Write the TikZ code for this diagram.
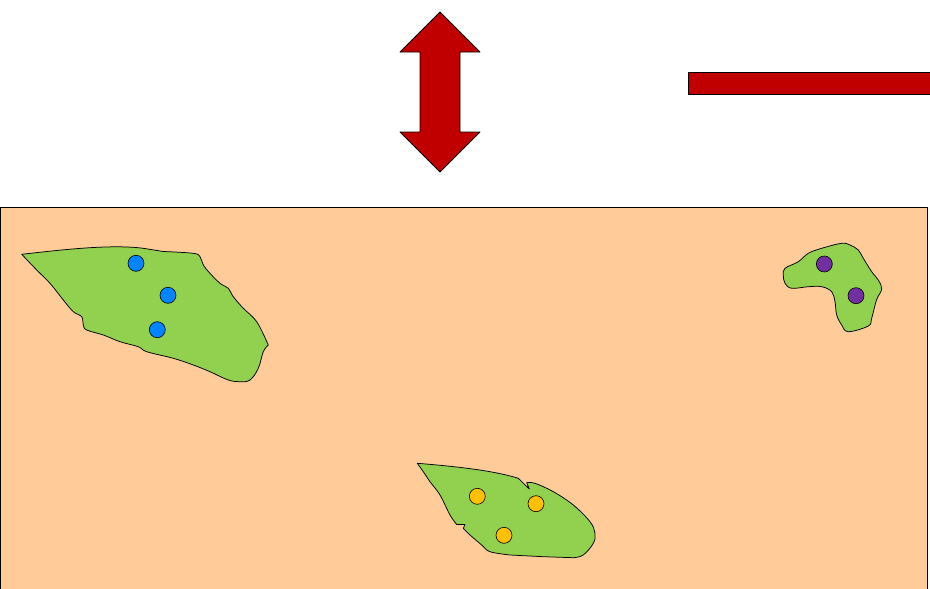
\documentclass[tikz,border=0pt]{standalone}
\begin{document}
\begin{tikzpicture}[x=1pt,y=-1pt,
  outline/.style={draw=black,line width=0.75pt,line join=round},
  land/.style={outline,fill=landgreen},
  site/.style={circle,draw=black,line width=0.6pt,minimum size=16pt,inner sep=0pt}]
\definecolor{arrowred}{RGB}{192,0,0}
\definecolor{sand}{RGB}{255,204,153}
\definecolor{landgreen}{RGB}{146,208,80}
\definecolor{siteblue}{RGB}{0,132,255}
\definecolor{siteyellow}{RGB}{255,192,0}
\definecolor{sitepurple}{RGB}{112,48,160}
\useasboundingbox (0,0) rectangle (930,589);
\begin{scope}
\clip (0,0) rectangle (930,589);
% ground area
\draw[outline,fill=sand] (0.5,207.5) rectangle (927.5,600);
% bar at top right
\draw[outline,fill=arrowred] (688,72.5) rectangle (940,94);
\end{scope}
% double-headed vertical arrow
\draw[outline,fill=arrowred] (440,12) -- (480,52) -- (460,52) -- (460,132) -- (480,132)
  -- (440,172) -- (400,132) -- (420,132) -- (420,52) -- (400,52) -- cycle;
% left island
\draw[land] (21.7,254.3) .. controls (60,250) and (110,244) .. (143.3,248.3)
  -- (163.3,251.5) -- plot[smooth,tension=0.6] coordinates {(163.3,251.5) (193.3,253.3) (200,256.7) (203.3,265) (210,273.3)
  (220,283.3) (228.3,288.3) (233.3,296.7) (243.3,308.3) (256.7,321.7) (268.3,345)}
  -- plot[smooth,tension=0.6] coordinates {(268.3,345) (263.3,351.7) (258.3,368.3) (250,380) (240,381.7) (228.3,380) (210,371.7)
  (193.3,365) (173.3,358.3) (146.7,351.7) (138.3,346.7) (120,341.7) (103.3,335) (86.7,330)
  (83.3,325) (81.7,316.7) (73.3,311.7) (63.3,300) (50,283.3) (36.7,270) (21.7,254.3)} -- cycle;
% bottom island
\draw[land] (417.3,463.3) .. controls (460,466.7) and (495,471) .. (518.3,478.3)
  -- (529.3,489) -- (526.7,482.7)
  -- plot[smooth,tension=0.6] coordinates {(526.7,482.7) (535,483.3) (553.3,491.7) (573.3,505) (590,521.7) (595,533.3)
  (593.3,543.3) (583.3,555) (573.3,557.7)}
  -- (543.3,556.7) -- (510,555)
  -- plot[smooth,tension=0.6] coordinates {(510,555) (490,551.7) (481.7,545) (470,535) (463.3,528.3)}
  -- (465,524.5) -- (456.7,524.5)
  -- plot[smooth,tension=0.6] coordinates {(456.7,524.5) (450,515) (440,495) (430,481.7) (423.3,471.7) (417.3,463.3)} -- cycle;
% right island
\draw[land] plot[smooth cycle,tension=0.6] coordinates {(785,268.3) (798.3,261.7) (808.3,253.3) (821.7,248.3)
  (841.7,243.3) (850,245) (858.3,250) (863.3,258.3) (871.7,271.7) (878.3,280) (881.7,289)
  (876.5,300) (871.7,318.3) (868.3,326) (848.3,331.7) (841.7,325) (836.7,315) (835,301.7)
  (831.7,291.7) (821.7,286.7) (808.3,286.7) (791.7,288.3) (785,283.3) (783.3,275)};
% sites
\node[site,fill=siteblue] (b1) at (136,263.3) {};
\node[site,fill=siteblue] (b2) at (168,295.3) {};
\node[site,fill=siteblue] (b3) at (157.3,329.7) {};
\node[site,fill=siteyellow] (y1) at (477.3,496.3) {};
\node[site,fill=siteyellow] (y2) at (536,503.7) {};
\node[site,fill=siteyellow] (y3) at (504,535.3) {};
\node[site,fill=sitepurple] (p1) at (824.3,264) {};
\node[site,fill=sitepurple] (p2) at (856,295.7) {};
\end{tikzpicture}
\end{document}
